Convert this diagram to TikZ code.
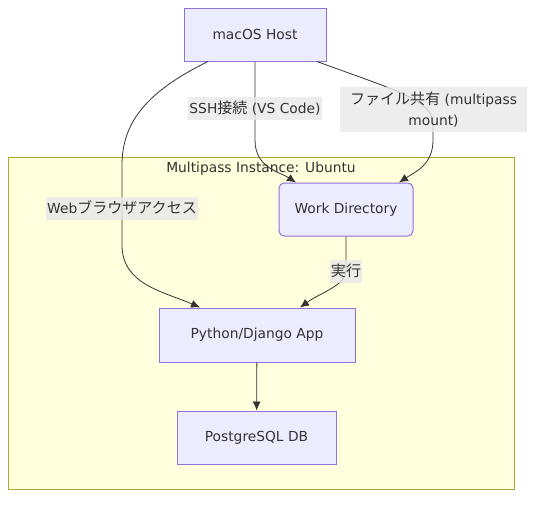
\documentclass[tikz,border=0pt]{standalone}
\usepackage{fontspec}
\usetikzlibrary{arrows.meta}
\setmainfont{DejaVu Sans}
\newfontfamily\jp[Scale=1.09]{Noto Sans CJK JP}

\definecolor{boxfill}{HTML}{ECECFF}
\definecolor{boxline}{HTML}{9370DB}
\definecolor{clusterfill}{HTML}{FFFFDE}
\definecolor{clusterline}{HTML}{AAAA33}
\definecolor{lblfill}{HTML}{E8E8E8}
\definecolor{ink}{HTML}{333333}

\tikzset{
  box/.style={draw=boxline, fill=boxfill, line width=1pt, text=ink,
    minimum width=142pt, minimum height=53pt, inner sep=0pt},
  lbl/.style={fill=lblfill, fill opacity=0.8, text opacity=1, text=ink,
    inner xsep=1pt, inner ysep=0pt, minimum height=23pt, align=center},
  edge/.style={draw=ink, line width=0.8pt, ->}
}

\begin{document}
\begin{tikzpicture}[x=1pt, y=-1pt, >={Latex[length=9pt,width=8pt]},
    font=\fontsize{13.8}{21}\selectfont]
        \useasboundingbox (0,0) rectangle (553,504);

        % ==== CLUSTER ====
        \draw[fill=clusterfill, draw=clusterline, line width=1pt] (8,157) rectangle (514,489);
        \node[text=ink] (title) at (261,169) {Multipass Instance: Ubuntu};

        % ==== NODES ====
        \node[box] (host) at (255,34.5) {macOS Host};
        \node[box, rounded corners=5pt, minimum width=134pt] (work) at (346,209.5) {Work Directory};
        \node[box, minimum width=196pt, minimum height=54pt] (app) at (257,335) {Python/Django App};
        \node[box, minimum width=159pt] (db) at (256.5,437.5) {PostgreSQL DB};

        % ==== LABEL POSITIONS ====
        \coordinate (webpos) at (122,208);
        \coordinate (sshpos) at (255,108.5);
        \coordinate (sharepos) at (433.5,109.5);
        \coordinate (runpos) at (346,271);

        % ==== EDGES ====
        \draw[edge] ([xshift=-47pt]host.south) .. controls (150,90) and (122,120) .. (122,165)
            -- (webpos) -- (122,245) .. controls (122,285) and (165,292) .. ([xshift=-57pt]app.north);
        \draw[edge] (host.south) -- (sshpos) -- (255,140)
            .. controls (255,168) and (280,172) .. ([xshift=-50pt]work.north);
        \draw[edge] ([xshift=62pt]host.south) .. controls (400,92) and (433,100) .. (433,125)
            -- (433,140) .. controls (433,165) and (415,172) .. ([xshift=53pt]work.north);
        \draw[edge] (work.south) .. controls (346,250) and (346,255) .. (runpos)
            .. controls (346,285) and (320,293) .. ([xshift=43pt]app.north);
        \draw[edge] (app) -- (db);

        % ==== EDGE LABELS ====
        \node[lbl] (web) at (webpos) {Web{\jp ブラウザアクセス}};
        \node[lbl] (ssh) at (sshpos) {SSH{\jp 接続} (VS Code)};
        \node[lbl, minimum height=45pt, minimum width=187pt] (share) at (sharepos) {{\jp ファイル共有} (multipass\\mount)};
        \node[lbl] (run) at (runpos) {{\jp 実行}};
\end{tikzpicture}
\end{document}
